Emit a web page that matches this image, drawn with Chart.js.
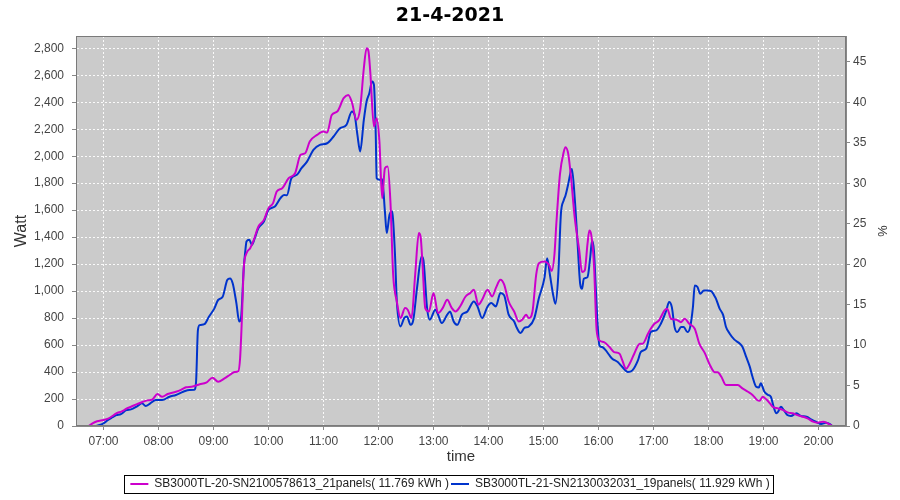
<!DOCTYPE html>
<html><head><meta charset="utf-8">
<script src="https://cdn.jsdelivr.net/npm/chart.js@4/dist/chart.umd.min.js"></script>
<style>html,body{margin:0;padding:0;background:#fff}#wrap{width:900px;height:500px;position:relative}</style>
</head><body><div id="wrap"><canvas id="c" width="900" height="500"></canvas></div>
<script>
const chartTitle = '21-4-2021';
const seriesNames = [
  'SB3000TL-20-SN2100578613_21panels( 11.769 kWh )',
  'SB3000TL-21-SN2130032031_19panels( 11.929 kWh )'
];
const xTickHours = [7,8,9,10,11,12,13,14,15,16,17,18,19,20];
const leftAxisTitle = 'Watt';
const rightAxisTitle = '%';
const xAxisTitle = 'time';

const magentaTimes = ['06:44','06:48','06:53','07:00','07:05','07:10','07:14','07:20','07:25','07:30','07:36','07:43','07:48','07:53','07:59','08:04','08:10','08:19','08:25','08:30','08:36','08:45','08:52','08:59','09:05','09:12','09:18','09:23','09:27','09:29','09:31','09:33','09:36','09:40','09:44','09:49','09:55','10:00','10:05','10:09','10:15','10:22','10:29','10:35','10:40','10:45','10:53','11:00','11:04','11:09','11:15','11:22','11:27','11:31','11:36','11:40','11:44','11:47','11:49','11:51','11:55','11:58','12:01','12:04','12:07','12:10','12:13','12:16','12:20','12:24','12:29','12:32','12:36','12:40','12:44','12:46','12:48','12:51','12:55','13:00','13:05','13:10','13:15','13:20','13:24','13:29','13:35','13:40','13:44','13:49','13:53','13:59','14:04','14:08','14:13','14:17','14:22','14:28','14:33','14:37','14:41','14:44','14:48','14:52','14:55','15:01','15:06','15:09','15:12','15:14','15:18','15:22','15:24','15:27','15:30','15:34','15:39','15:42','15:45','15:48','15:50','15:52','15:55','15:58','16:01','16:06','16:12','16:17','16:23','16:26','16:30','16:34','16:39','16:45','16:48','16:54','16:57','17:01','17:06','17:12','17:15','17:19','17:25','17:30','17:34','17:39','17:45','17:50','17:56','18:01','18:07','18:10','18:14','18:19','18:25','18:32','18:37','18:43','18:48','18:53','18:56','18:59','19:03','19:07','19:10','19:16','19:21','19:27','19:32','19:37','19:43','19:48','19:54','19:59','20:05','20:10','20:15'];
const magentaWatts = [0,20,35,45,55,75,94,108,128,143,160,180,190,195,237,217,237,254,270,287,291,309,321,358,328,353,380,400,405,500,800,1170,1280,1318,1380,1479,1528,1615,1652,1738,1763,1837,1874,2010,2022,2109,2158,2183,2175,2306,2331,2430,2454,2400,2269,2355,2652,2800,2780,2627,2220,2281,2109,1689,1911,1923,1664,1121,923,800,874,860,800,1121,1430,1400,1200,874,849,985,837,874,936,874,849,886,960,985,1010,899,936,1010,960,1022,1084,1050,923,849,775,790,825,800,849,1121,1207,1220,1195,1150,1277,1499,1869,2030,2067,2017,1844,1548,1301,1141,1153,1350,1449,1420,1202,709,635,622,585,548,536,486,425,462,536,610,610,684,721,758,783,857,869,795,788,770,795,758,721,610,540,460,398,398,365,304,304,304,279,254,230,193,188,217,198,168,143,131,119,99,94,81,69,57,32,25,32,20,0];

const blueTimes = ['06:52','07:00','07:05','07:10','07:14','07:19','07:25','07:30','07:37','07:42','07:46','07:51','07:57','08:04','08:12','08:19','08:27','08:34','08:39','08:41','08:43','08:45','08:50','08:55','09:01','09:05','09:10','09:15','09:18','09:21','09:25','09:28','09:30','09:33','09:35','09:36','09:39','09:42','09:45','09:49','09:55','10:00','10:07','10:13','10:17','10:20','10:25','10:31','10:36','10:42','10:49','10:56','11:04','11:11','11:18','11:25','11:31','11:34','11:37','11:40','11:44','11:47','11:50','11:53','11:55','11:57','11:58','12:01','12:04','12:07','12:09','12:12','12:15','12:16','12:18','12:20','12:24','12:28','12:31','12:35','12:38','12:42','12:47','12:49','12:53','12:56','13:02','13:05','13:09','13:15','13:18','13:22','13:26','13:31','13:37','13:44','13:48','13:53','13:59','14:03','14:08','14:13','14:17','14:22','14:28','14:31','14:35','14:39','14:44','14:50','14:55','15:01','15:04','15:07','15:11','15:13','15:16','15:19','15:22','15:24','15:27','15:30','15:31','15:34','15:37','15:40','15:42','15:44','15:48','15:51','15:53','15:55','15:57','15:59','16:01','16:04','16:08','16:12','16:15','16:21','16:26','16:32','16:37','16:43','16:46','16:52','16:57','17:03','17:08','17:14','17:17','17:20','17:23','17:26','17:30','17:33','17:37','17:40','17:43','17:45','17:48','17:51','17:55','17:59','18:03','18:06','18:08','18:12','18:16','18:19','18:23','18:28','18:34','18:37','18:41','18:45','18:48','18:52','18:55','18:57','19:01','19:05','19:08','19:11','19:14','19:16','19:19','19:22','19:26','19:30','19:36','19:41','19:47','19:52','19:57','20:03','20:08','20:12','20:15'];
const blueWatts = [0,20,45,65,81,88,118,123,148,168,148,168,192,192,217,230,254,267,268,330,711,748,755,810,872,934,958,1082,1094,1057,909,775,800,1170,1318,1368,1380,1343,1393,1467,1516,1602,1627,1689,1713,1710,1837,1862,1911,1960,2047,2084,2096,2146,2207,2232,2331,2306,2158,2035,2269,2405,2467,2553,2530,2158,1837,1825,1830,1590,1430,1565,1590,1520,1269,923,738,800,812,750,788,1022,1257,1230,874,788,862,825,763,825,849,775,750,825,849,923,886,800,886,911,886,985,970,825,775,726,689,726,738,800,948,1096,1244,1121,955,906,1104,1573,1672,1709,1795,1894,1906,1696,1375,1054,1017,1091,1104,1252,1375,1301,1030,758,597,585,560,523,499,474,437,400,412,486,548,573,696,709,758,857,919,881,733,696,733,733,696,733,881,1042,1030,980,1005,1005,1000,970,946,872,822,736,686,642,612,588,514,440,365,291,286,316,254,230,217,143,94,106,143,119,81,74,94,74,69,49,32,15,25,15,0];

const seriesColors = ['#cc00cc', '#0033cc'];

function toHours(t){ const p = t.split(':').map(Number); return p[0] + p[1]/60; }
function pts(times, vals){ return times.map((t,i)=>({x: toHours(t), y: vals[i]})); }

const plotBg = {
  id: 'plotBg',
  beforeDraw(chart){
    const {ctx, chartArea:a} = chart;
    ctx.save(); ctx.fillStyle = '#cbcbcb';
    ctx.fillRect(a.left, a.top, a.right-a.left, a.bottom-a.top); ctx.restore();
  },
  afterDraw(chart){
    const {ctx, chartArea:a} = chart;
    ctx.save(); ctx.strokeStyle = '#7a7a7a'; ctx.lineWidth = 1;
    ctx.strokeRect(Math.round(a.left)+0.5, Math.round(a.top)+0.5, Math.round(a.right-a.left)-1, Math.round(a.bottom-a.top)-1);
    const lg = chart.legend;
    if (lg && lg.legendHitBoxes && lg.legendHitBoxes.length){
      let l=Infinity,r=-Infinity,t=Infinity,b=-Infinity;
      lg.legendHitBoxes.forEach(h=>{l=Math.min(l,h.left);r=Math.max(r,h.left+h.width);t=Math.min(t,h.top);b=Math.max(b,h.top+h.height);});
      ctx.strokeStyle = '#000';
      ctx.strokeRect(Math.round(l-6)+0.5, Math.round(t-3)+0.5, Math.round(r-l+10), Math.round(b-t+6));
    }
    ctx.restore();
  }
};

const tickFont = {family: "'Liberation Sans', Arial, sans-serif", size: 12};
const gridCommon = {color: 'rgba(255,255,255,0.9)', tickColor: '#888', tickLength: 4, tickBorderDash: [], lineWidth: 1};

new Chart(document.getElementById('c'), {
  type: 'line',
  data: {
    datasets: [
      {label: seriesNames[0], data: pts(magentaTimes, magentaWatts), borderColor: seriesColors[0], backgroundColor: seriesColors[0], borderWidth: 2, pointRadius: 0, cubicInterpolationMode: 'monotone', yAxisID: 'y'},
      {label: seriesNames[1], data: pts(blueTimes, blueWatts), borderColor: seriesColors[1], backgroundColor: seriesColors[1], borderWidth: 2, pointRadius: 0, cubicInterpolationMode: 'monotone', yAxisID: 'y'}
    ]
  },
  options: {
    responsive: false, animation: false, devicePixelRatio: 1, locale: 'en-US',
    layout: {padding: 0},
    plugins: {
      title: {display: true, text: chartTitle, color: '#000', font: {family: "'DejaVu Sans', sans-serif", size: 19, weight: 'bold'}, padding: {top: 5, bottom: 8.2}},
      legend: {position: 'bottom', labels: {usePointStyle: true, pointStyle: 'line', pointStyleWidth: 18, boxHeight: 8, color: '#222', padding: 2, font: {family: "'Liberation Sans', Arial, sans-serif", size: 12}}},
      tooltip: {enabled: false}
    },
    scales: {
      x: {
        type: 'linear', min: 6.5, max: 20.5,
        afterBuildTicks(s){ s.ticks = xTickHours.map(v=>({value: v})); },
        afterFit(s){ s.height = s.chart.height - 426 - s.chart.legend.height; },
        ticks: {autoSkip: false, maxRotation: 0, padding: 4, color: '#444', font: tickFont, callback: v => String(v).padStart(2,'0') + ':00'},
        grid: gridCommon,
        border: {display: true, color: '#888', dash: [2,2]},
        title: {display: true, text: xAxisTitle, color: '#333', font: {family: "'Liberation Sans', Arial, sans-serif", size: 15}, padding: {top: 0, bottom: 10}}
      },
      y: {
        position: 'left', min: 0, max: 2891,
        afterFit(s){ s.width = 76; },
        ticks: {stepSize: 200, includeBounds: false, padding: 8, color: '#444', font: tickFont},
        grid: gridCommon,
        border: {display: true, color: '#888', dash: [2,2]},
        title: {display: true, text: leftAxisTitle, color: '#333', font: {family: "'Liberation Sans', Arial, sans-serif", size: 16}, padding: {top: 12, bottom: 0}}
      },
      y1: {
        position: 'right', min: 0, max: 48.2,
        afterFit(s){ s.width = 54; },
        ticks: {stepSize: 5, includeBounds: false, padding: 3, color: '#444', font: tickFont},
        grid: {drawOnChartArea: false, tickColor: '#888', tickLength: 4},
        border: {display: true, color: '#888'},
        title: {display: true, text: rightAxisTitle, color: '#333', font: {family: "'Liberation Sans', Arial, sans-serif", size: 13}, padding: {top: 11, bottom: 0}}
      }
    }
  },
  plugins: [plotBg]
});
</script></body></html>
